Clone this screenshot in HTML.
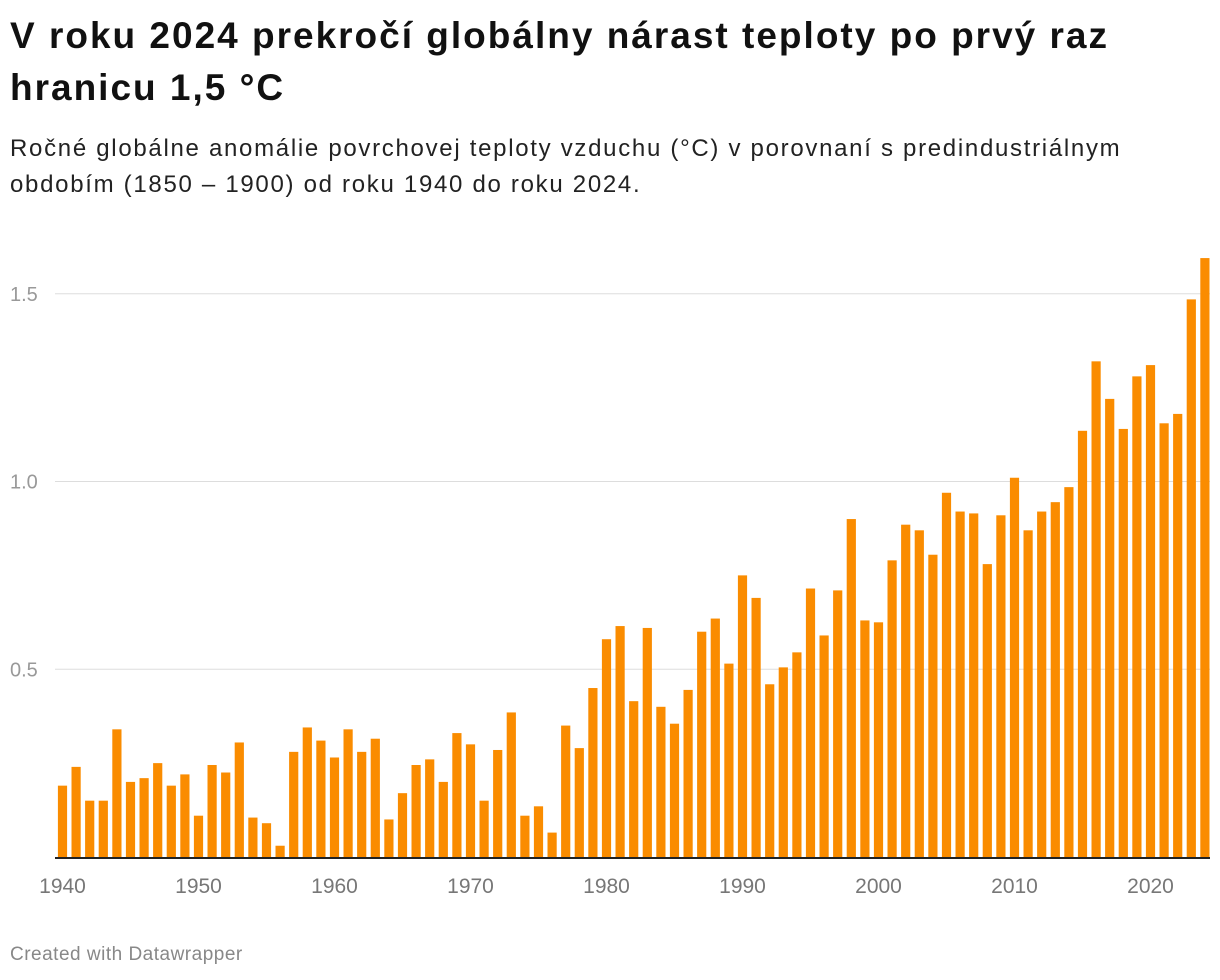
<!DOCTYPE html>
<html><head><meta charset="utf-8"><style>
body{margin:0;background:#fff;font-family:"Liberation Sans",Arial,sans-serif;width:1220px;height:980px;overflow:hidden;position:relative}
h1{position:absolute;left:10px;top:10px;margin:0;font-size:37px;line-height:52px;font-weight:bold;color:#111;width:1200px;white-space:nowrap;letter-spacing:2px}
.sub{position:absolute;left:10px;top:131px;font-size:24px;line-height:36px;color:#222;width:1200px;white-space:nowrap;letter-spacing:1.7px}
.foot{position:absolute;left:10px;top:944px;font-size:19px;color:#888;letter-spacing:0.5px}
svg{position:absolute;left:0;top:0}
</style></head><body>
<h1>V roku 2024 prekročí globálny nárast teploty po prvý raz<br>hranicu 1,5 °C</h1>
<div class="sub">Ročné globálne anomálie povrchovej teploty vzduchu (°C) v porovnaní s predindustriálnym<br>obdobím (1850 – 1900) od roku 1940 do roku 2024.</div>
<svg id="chart" width="1220" height="980"></svg>
<div class="foot">Created with Datawrapper</div>
<script>
const years=[];for(let y=1940;y<=2024;y++)years.push(y);
const values=[0.19,0.24,0.15,0.15,0.34,0.20,0.21,0.25,0.19,0.22,
0.11,0.245,0.225,0.305,0.105,0.09,0.03,0.28,0.345,0.31,
0.265,0.34,0.28,0.315,0.10,0.17,0.245,0.26,0.20,0.33,
0.30,0.15,0.285,0.385,0.11,0.135,0.065,0.35,0.29,0.45,
0.58,0.615,0.415,0.61,0.40,0.355,0.445,0.60,0.635,0.515,
0.75,0.69,0.46,0.505,0.545,0.715,0.59,0.71,0.90,0.63,
0.625,0.79,0.885,0.87,0.805,0.97,0.92,0.915,0.78,0.91,
1.01,0.87,0.92,0.945,0.985,1.135,1.32,1.22,1.14,1.28,
1.31,1.155,1.18,1.485,1.595];
const yTicks=[0.5,1.0,1.5];
const yTickLabels=["0.5","1.0","1.5"];
const xTicks=[1940,1950,1960,1970,1980,1990,2000,2010,2020];
const svg=document.getElementById('chart');const NS='http://www.w3.org/2000/svg';
const y0=857,pxPerUnit=375.5,band=13.6,firstCenter=62.5,bw=9.2;
const yScale=v=>y0-v*pxPerUnit;
const xScale=yr=>firstCenter+(yr-1940)*band;
function mk(t,a){const e=document.createElementNS(NS,t);for(const k in a)e.setAttribute(k,a[k]);svg.appendChild(e);return e;}
yTicks.forEach((v,i)=>{
 const l=mk('line',{x1:55,x2:1210,y1:yScale(v),y2:yScale(v),stroke:'#ddd','stroke-width':1});
 
 
 const t=mk('text',{x:10,y:yScale(v)+7,'font-size':20,fill:'#999','font-family':'Liberation Sans, sans-serif'});
 t.textContent=yTickLabels[i];
 
 
});
values.forEach((v,i)=>{
 const r=mk('rect',{x:xScale(years[i])-bw/2,y:yScale(v),width:bw,height:y0-yScale(v),fill:'#fa8c00'});
 
 
});
const base=mk('line',{x1:55,x2:1210,y1:y0+1,y2:y0+1,stroke:'#222','stroke-width':2});


xTicks.forEach(yr=>{
 const t=mk('text',{x:xScale(yr),y:893,'font-size':21,fill:'#777','text-anchor':'middle','font-family':'Liberation Sans, sans-serif'});
 t.textContent=yr;
 
 
});
</script>
</body></html>
